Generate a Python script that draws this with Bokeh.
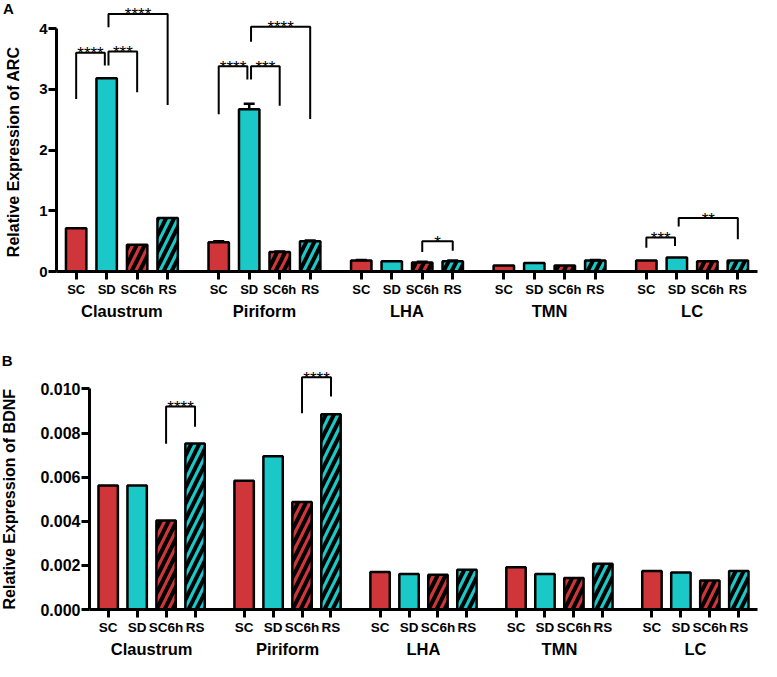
import math
from bokeh.plotting import figure
from bokeh.models import (FactorRange, Range1d, FixedTicker, NumeralTickFormatter,
                          Whisker, TeeHead, ColumnDataSource)
from bokeh.layouts import column, row
from bokeh.embed import file_html
from bokeh.resources import INLINE
from bokeh.core.properties import value

# ---------------- data ----------------
regions = ["Claustrum", "Piriform", "LHA", "TMN", "LC"]
conditions = ["SC", "SD", "SC6h", "RS"]

# Panel A : Relative expression of ARC
arc_sc = [0.71, 0.48, 0.18, 0.10, 0.18]
arc_sd = [3.18, 2.67, 0.17, 0.14, 0.23]
arc_sc6h = [0.44, 0.32, 0.15, 0.10, 0.17]
arc_rs = [0.88, 0.50, 0.17, 0.18, 0.18]
arc_sem_sc = [0.0, 0.02, 0.01, 0.0, 0.0]
arc_sem_sd = [0.0, 0.09, 0.0, 0.0, 0.0]
arc_sem_sc6h = [0.0, 0.01, 0.01, 0.0, 0.0]
arc_sem_rs = [0.0, 0.01, 0.01, 0.01, 0.0]
arc_ticks = [0, 1, 2, 3, 4]

# Panel B : Relative expression of BDNF
bdnf_sc = [0.00562, 0.00584, 0.00170, 0.00192, 0.00175]
bdnf_sd = [0.00562, 0.00695, 0.00161, 0.00161, 0.00168]
bdnf_sc6h = [0.00403, 0.00487, 0.00158, 0.00143, 0.00131]
bdnf_rs = [0.00752, 0.00885, 0.00180, 0.00207, 0.00175]
bdnf_ticks = [0.0, 0.002, 0.004, 0.006, 0.008, 0.010]

# significance brackets: region, cond_a, cond_b, leg_a end, bar height, leg_b end, stars
arc_brackets = [
    ("Claustrum", "SC", "SD", 2.84, 3.60, 3.39, "****"),
    ("Claustrum", "SD", "SC6h", 3.39, 3.62, 2.95, "***"),
    ("Claustrum", "SD", "RS", 4.02, 4.24, 2.74, "****"),
    ("Piriform", "SC", "SD", 2.59, 3.38, 3.16, "****"),
    ("Piriform", "SD", "SC6h", 3.16, 3.38, 2.73, "***"),
    ("Piriform", "SD", "RS", 3.78, 4.03, 2.51, "****"),
    ("LHA", "SC6h", "RS", 0.32, 0.50, 0.34, "*"),
    ("LC", "SC", "SD", 0.39, 0.56, 0.42, "***"),
    ("LC", "SD", "RS", 0.74, 0.88, 0.53, "**"),
]
bdnf_brackets = [
    ("Claustrum", "SC6h", "RS", 0.00751, 0.00920, 0.00829, "****"),
    ("Piriform", "SC6h", "RS", 0.00890, 0.01053, 0.00966, "****"),
]

# panel letters and y-axis titles (drawn in a left gutter)
panel_letters = ["A", "B"]
y_titles = ["Relative Expression of ARC", "Relative Expression of BDNF"]

RED = "#D0353A"
CYAN = "#1BC8C8"
cond_color = {"SC": RED, "SD": CYAN, "SC6h": RED, "RS": CYAN}
cond_hatch = {"SC": " ", "SD": " ", "SC6h": "/", "RS": "/"}
FONT = "Liberation Sans"
GUTTER = 30
MAIN_W = 761 - GUTTER


def no_align(fig):
    if "frame_align" in fig.properties():
        fig.frame_align = False


def make_panel(vals, sems, brackets, ticks, fmt, *,
               height, left, top, bottom, yend, gpad, tick_size, xlab_size,
               group_size):
    factors = [(r, c) for r in regions for c in conditions]
    p = figure(x_range=FactorRange(factors=factors, factor_padding=0.0,
                                   group_padding=gpad, range_padding=0.145,
                                   range_padding_units="absolute"),
               y_range=Range1d(0, yend), width=MAIN_W, height=height,
               output_backend="svg", toolbar_location=None,
               min_border_left=left, min_border_right=4,
               min_border_top=top, min_border_bottom=bottom)
    no_align(p)
    p.grid.visible = False
    p.outline_line_color = None

    xs, tops, colors, hatches = [], [], [], []
    wb, wl, wu = [], [], []
    for ci, c in enumerate(conditions):
        for ri, r in enumerate(regions):
            xs.append((r, c))
            tops.append(vals[ci][ri])
            colors.append(cond_color[c])
            hatches.append(cond_hatch[c])
            if sems is not None and sems[ci][ri] > 0:
                wb.append((r, c))
                wl.append(vals[ci][ri])
                wu.append(vals[ci][ri] + sems[ci][ri])
    src = ColumnDataSource(dict(x=xs, top=tops, color=colors, hatch=hatches))

    if wb:
        wsrc = ColumnDataSource(dict(base=wb, lower=wl, upper=wu))
        p.add_layout(Whisker(source=wsrc, base="base", lower="lower", upper="upper",
                             dimension="height", line_width=2.5, line_color="black",
                             upper_head=TeeHead(size=11, line_width=2.5, line_color="black"),
                             lower_head=None, level="glyph"))

    p.vbar(x="x", top="top", width=0.67, source=src, fill_color="color",
           line_color="black", line_width=2.5, hatch_pattern="hatch",
           hatch_color="black", hatch_weight=4, hatch_scale=16)

    # significance brackets
    bxs, bys, tx, ty, tt = [], [], [], [], []
    for (r, a, b, ya, yh, yb, stars) in brackets:
        ia, ib = conditions.index(a), conditions.index(b)
        oa = 0.06 if (a == "SD" and any(br[0] == r and br[2] == "SD" for br in brackets)) else 0.0
        ob = -0.06 if (b == "SD" and any(br[0] == r and br[1] == "SD" for br in brackets)) else 0.0
        bxs.append([(r, a, oa), (r, a, oa), (r, b, ob), (r, b, ob)])
        bys.append([ya, yh, yh, yb])
        tx.append((r, a, (ib - ia) / 2.0 + (oa + ob) / 2.0))
        ty.append(yh)
        tt.append(stars)
    p.multi_line(xs=bxs, ys=bys, line_color="black", line_width=2)
    p.text(x=tx, y=ty, text=tt, text_align="center", text_baseline="alphabetic",
           y_offset=1, text_font=value(FONT), text_font_size="17px", text_color="black")

    # axes
    xa = p.xaxis[0]
    xa.axis_line_width = 3
    xa.major_tick_line_width = 3
    xa.major_tick_out = 8
    xa.major_tick_in = 0
    xa.major_label_standoff = 2
    xa.major_label_text_font = FONT
    xa.major_label_text_font_style = "bold"
    xa.major_label_text_font_size = xlab_size
    xa.major_label_text_color = "black"
    xa.group_text_font = FONT
    xa.group_text_font_style = "bold"
    xa.group_text_font_size = group_size
    xa.group_text_color = "black"
    xa.separator_line_color = None

    ya = p.yaxis[0]
    ya.ticker = FixedTicker(ticks=ticks)
    ya.bounds = (ticks[0], ticks[-1])
    ya.formatter = fmt
    ya.axis_line_width = 3
    ya.major_tick_line_width = 3
    ya.major_tick_out = 8
    ya.major_tick_in = 0
    ya.minor_tick_line_color = None
    ya.major_label_standoff = 1
    ya.major_label_text_font = FONT
    ya.major_label_text_font_style = "bold"
    ya.major_label_text_font_size = tick_size
    ya.major_label_text_color = "black"
    return p


pa = make_panel([arc_sc, arc_sd, arc_sc6h, arc_rs],
                [arc_sem_sc, arc_sem_sd, arc_sem_sc6h, arc_sem_rs],
                arc_brackets, arc_ticks, NumeralTickFormatter(format="0"),
                height=340, left=26, top=0, bottom=69, yend=4.461, gpad=0.675,
                tick_size="15px", xlab_size="13px", group_size="16.5px")

pb = make_panel([bdnf_sc, bdnf_sd, bdnf_sc6h, bdnf_rs], None,
                bdnf_brackets, bdnf_ticks, NumeralTickFormatter(format="0.000"),
                height=321, left=59, top=22, bottom=52, yend=0.011197, gpad=0.695,
                tick_size="16px", xlab_size="13.5px", group_size="16.5px")

# left gutter with the panel letters and the rotated y-axis titles
g = figure(width=GUTTER, height=661, x_range=Range1d(0, GUTTER), y_range=Range1d(661, 0),
           output_backend="svg", toolbar_location=None, min_border=0,
           x_axis_type=None, y_axis_type=None)
no_align(g)
g.grid.visible = False
g.outline_line_color = None
g.text(x=[7.8, 6.6], y=[8.1, 359.7], text=panel_letters, text_align="center",
       text_baseline="middle", text_font=value(FONT), text_font_style="bold",
       text_font_size="15px", text_color="black")
g.text(x=[12.7, 9.3], y=[151.3, 498.7], text=y_titles, angle=math.pi / 2,
       text_align="center", text_baseline="middle", text_font=value(FONT),
       text_font_style="bold", text_font_size="16px", text_color="black")

layout = row(g, column(row(pa), row(pb), spacing=0), spacing=0)
open("out.html", "w").write(file_html(layout, INLINE))
